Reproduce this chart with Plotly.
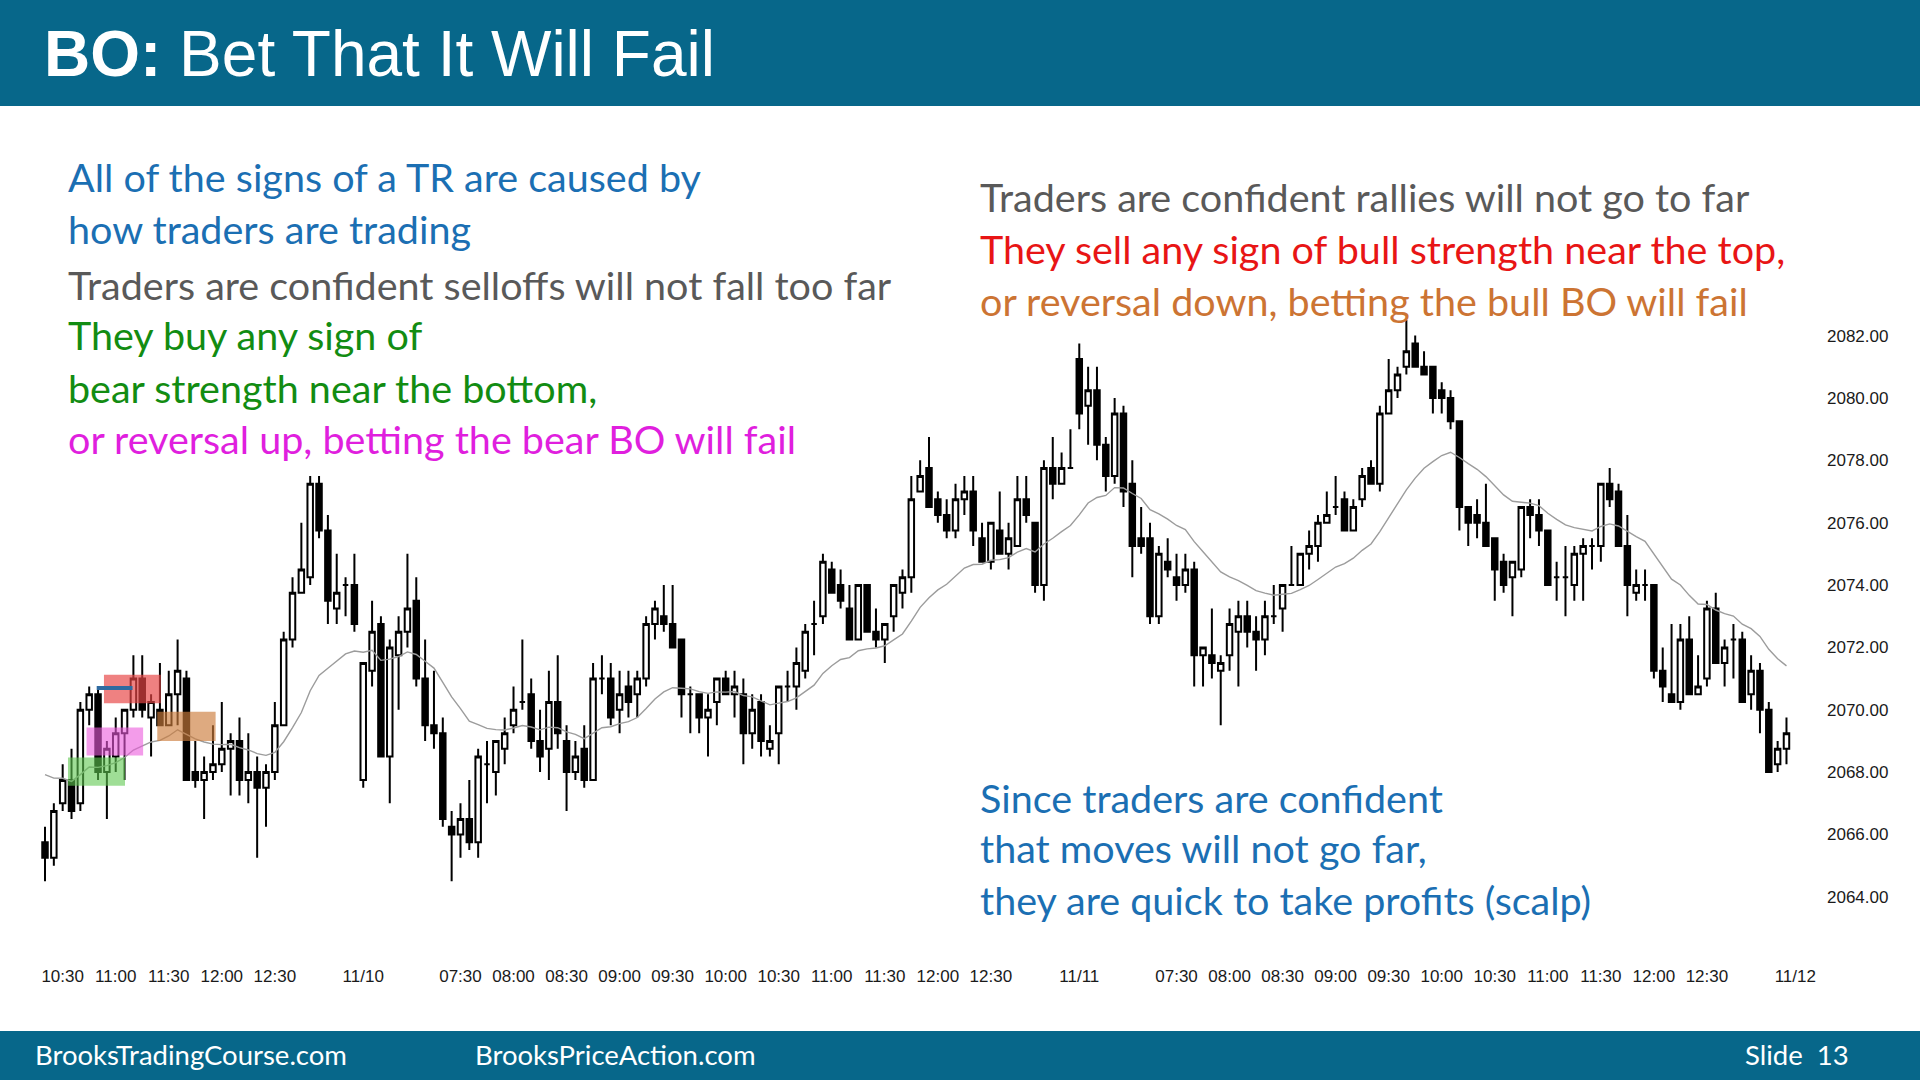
import plotly.graph_objects as go

# ---------------- data (5-min ES bars) ----------------
D1_OPEN = [2065.75, 2065.25, 2067, 2067.75, 2067, 2070, 2070.5, 2068, 2068.5, 2069.25, 2070, 2071,
           2069.75, 2070, 2069.5, 2070.5, 2071, 2068, 2067.75, 2068, 2068.25, 2068.75, 2069, 2067.75,
           2068, 2067.5, 2068, 2069.5, 2072.25, 2073.75, 2074.25, 2077.25, 2075.75, 2073.25, 2074, 2074]
D1_HIGH = [2066.25, 2067, 2068.25, 2068.75, 2070.25, 2070.75, 2070.75, 2069, 2069.75, 2070, 2071.75, 2071.75,
           2070.5, 2071.5, 2071.25, 2072.25, 2071.25, 2069, 2068.5, 2069.5, 2070.25, 2069.25, 2069.75, 2069.25,
           2068.5, 2068.25, 2070.25, 2072.5, 2074.25, 2076, 2077.5, 2077.5, 2076.25, 2075, 2074.25, 2075]
D1_LOW = [2064.5, 2065, 2066.75, 2066.5, 2066.75, 2069.5, 2067.75, 2066.5, 2068, 2067.75, 2069.75, 2069.75,
          2068.5, 2069.5, 2069.5, 2069.5, 2067.75, 2067.5, 2066.5, 2067.75, 2068, 2067.25, 2067.25, 2067,
          2065.25, 2066.25, 2067.75, 2069.5, 2072, 2073.75, 2074, 2075.5, 2072.75, 2072.75, 2073, 2072.5]
D1_CLOSE = [2065.25, 2066.75, 2067.75, 2066.75, 2070, 2070.5, 2068, 2068.75, 2069.25, 2070, 2071, 2070,
            2070.25, 2069.5, 2070.5, 2071.25, 2067.75, 2067.75, 2068, 2068.25, 2068.75, 2069, 2067.75, 2068,
            2067.5, 2068, 2069.5, 2072.25, 2073.75, 2074.5, 2077.25, 2075.75, 2073.5, 2073.75, 2074, 2072.75]

D2_OPEN = [2067.75, 2071.25, 2072.75, 2068.5, 2071.75, 2072.5, 2073.5, 2071, 2069.5, 2069.25, 2066.25, 2066,
           2066.5, 2065.75, 2068.25, 2068, 2068.75, 2069.5, 2070.25, 2070.5, 2069, 2068.75, 2070.25, 2069,
           2068, 2068.75, 2067.75, 2071, 2071, 2070, 2070.75, 2070.5, 2071, 2072.75, 2073, 2072.75,
           2072.25, 2070.5, 2070.5, 2069.75, 2070.25, 2071, 2070.5, 2070.5, 2069.25, 2070.25, 2068.75, 2069.25,
           2070.75, 2070.75, 2071.25, 2072.75, 2073, 2074.5, 2074, 2073.25, 2072.25, 2074, 2072.5, 2072.25,
           2073, 2073.75, 2074.25, 2077, 2077.75, 2076.75, 2076.25, 2075.75, 2076.75, 2077, 2075.5, 2074.75,
           2075.75, 2075, 2075.25, 2076.75, 2076, 2074, 2077.75, 2077.25, 2077.75]
D2_HIGH = [2071.5, 2073.5, 2073, 2072.25, 2073, 2075, 2074.25, 2072.25, 2071.25, 2069.75, 2066.75, 2067,
           2067.75, 2068.75, 2069, 2069, 2069.75, 2070.75, 2072.25, 2071, 2070, 2071.25, 2071.75, 2069.5,
           2069, 2069.5, 2071.5, 2071.75, 2071.5, 2071.25, 2071.25, 2071.25, 2073, 2073.5, 2074, 2074,
           2072.25, 2070.75, 2070.5, 2070.5, 2071, 2071.25, 2071.25, 2071, 2070.5, 2070.5, 2069.5, 2070.75,
           2071.25, 2072, 2072.75, 2073.5, 2075, 2074.75, 2074.5, 2074, 2074, 2074, 2073.25, 2072.75,
           2074, 2074.5, 2077.5, 2078, 2078.75, 2077, 2076.75, 2077.25, 2077.5, 2077.5, 2076, 2076,
           2077, 2076, 2077.5, 2077.5, 2076, 2078, 2078.75, 2078.25, 2079]
D2_LOW = [2067.5, 2070.75, 2068.5, 2067, 2070, 2072, 2070.75, 2069, 2068.75, 2066.25, 2064.5, 2065.25,
          2065.5, 2065.25, 2067, 2067.25, 2068.25, 2069.25, 2070, 2068.75, 2068, 2067.75, 2068.75, 2066.75,
          2067.75, 2067.5, 2067.75, 2070.5, 2069.5, 2069.25, 2069.75, 2069.75, 2070.75, 2072.25, 2072.5, 2072,
          2069.75, 2069.25, 2069.25, 2068.5, 2069.5, 2070.5, 2069.75, 2068.25, 2068.75, 2068.5, 2068.5, 2068.25,
          2070.25, 2070, 2071, 2071.75, 2072.75, 2073.75, 2073.25, 2072.25, 2072.25, 2072.5, 2072, 2071.5,
          2072.5, 2073.25, 2073.75, 2077, 2076.5, 2076, 2075.5, 2075.5, 2076.25, 2075.25, 2074.75, 2074.5,
          2075, 2074.5, 2075.25, 2076, 2073.75, 2073.5, 2076.75, 2077.25, 2077.75]
D2_CLOSE = [2071.5, 2072.5, 2068.5, 2072, 2072.5, 2073.25, 2071, 2069.5, 2069.25, 2066.5, 2066, 2066.5,
            2065.75, 2068.5, 2068.25, 2069, 2069.25, 2070, 2070.25, 2069, 2068.5, 2070.25, 2069.25, 2068,
            2068.5, 2067.75, 2071, 2071, 2069.75, 2070.5, 2070.25, 2071, 2072.75, 2073.25, 2072.75, 2072,
            2070.5, 2070.5, 2069.75, 2070, 2071, 2070.5, 2070.75, 2069.25, 2070, 2069, 2069, 2070.75,
            2070.75, 2071.5, 2072.5, 2072.75, 2074.75, 2073.75, 2073.5, 2072.25, 2074, 2072.5, 2072.25, 2072.75,
            2074, 2074.25, 2076.75, 2077.5, 2076.5, 2076.25, 2075.75, 2076.75, 2077, 2075.75, 2074.75, 2076,
            2075, 2075.5, 2076.75, 2076.25, 2074, 2077.75, 2077.25, 2077.75, 2077.75]

D3_OPEN = [2081.25, 2079.75, 2080.25, 2078.5, 2077.5, 2079.5, 2077.25, 2075.5, 2075.5, 2073, 2074.75, 2074.25,
           2074, 2074.5, 2071.75, 2071.75, 2071.25, 2071.75, 2072.5, 2073, 2072.5, 2072.25, 2073, 2073.25,
           2074, 2074, 2075, 2075.25, 2076, 2076.5, 2076.75, 2075.75, 2076.75, 2077.75, 2077.25, 2079.5,
           2080.25, 2081, 2081.75, 2081, 2081, 2080.25, 2080, 2079.25, 2076.5, 2076.25, 2076, 2075.5,
           2074.75, 2074.25, 2074.5, 2076.5, 2076.25, 2075.75, 2074.25, 2074.25, 2074, 2075, 2075.25, 2075.25,
           2077.25, 2077, 2075.25, 2073.75, 2074, 2074, 2071.25, 2070.5, 2070.25, 2072.25, 2070.5, 2071,
           2073.25, 2071.5, 2072.25, 2072.25, 2070.5, 2071.25, 2070, 2068.25, 2068.75]
D3_HIGH = [2081.75, 2081, 2081, 2078.75, 2080, 2079.75, 2078, 2076.5, 2076, 2075.25, 2075.5, 2075,
           2075, 2074.75, 2072, 2073.25, 2071.75, 2073.25, 2073.5, 2073.5, 2073, 2073.5, 2074, 2074,
           2075.25, 2075, 2075.75, 2076.25, 2077, 2077.5, 2077, 2076.75, 2077.75, 2078, 2079.75, 2081.25,
           2081, 2082.5, 2082, 2081.5, 2081, 2080.5, 2080.25, 2079.25, 2076.5, 2076.75, 2077.25, 2075.5,
           2075, 2074.75, 2076.5, 2076.75, 2076.75, 2075.75, 2074.75, 2075.25, 2075.25, 2075.5, 2075.5, 2077.25,
           2077.75, 2077.25, 2076.25, 2074.5, 2074.5, 2074, 2072, 2072.75, 2072.75, 2073, 2071.75, 2073.5,
           2073.75, 2072.25, 2072.75, 2072.5, 2071.75, 2071.5, 2070.25, 2069, 2069.75]
D3_LOW = [2079, 2078.5, 2078, 2077, 2077.25, 2076.5, 2074.25, 2075, 2072.75, 2072.75, 2074.25, 2073.5,
          2073.75, 2070.75, 2070.75, 2071, 2069.5, 2071.25, 2070.75, 2072, 2071.25, 2071.75, 2072.75, 2072.5,
          2074, 2074, 2074.5, 2074.75, 2076, 2076.25, 2075.75, 2075.75, 2076.5, 2077.25, 2077, 2079.5,
          2080, 2080.75, 2081, 2080.75, 2079.5, 2079.5, 2079, 2075.75, 2075.25, 2075.5, 2075.25, 2073.5,
          2073.75, 2073, 2074.25, 2075.5, 2075.25, 2074, 2073.5, 2073, 2073.5, 2073.5, 2074.5, 2074.75,
          2076.5, 2075.25, 2073, 2073.5, 2073.5, 2071, 2070.25, 2070.25, 2070, 2070.5, 2070.5, 2070.75,
          2071.5, 2070.75, 2071, 2070.25, 2070, 2069.25, 2068, 2068, 2068.25]
D3_CLOSE = [2079.5, 2080.25, 2078.5, 2077.5, 2079.5, 2077, 2075.25, 2075.25, 2073, 2075, 2074.5, 2074,
            2074.5, 2071.75, 2072, 2071.5, 2071.5, 2072.75, 2073, 2072.5, 2072.25, 2073, 2073, 2074,
            2074, 2075, 2075.25, 2076, 2076.25, 2076.5, 2075.75, 2076.5, 2077.5, 2077.25, 2079.5, 2080.25,
            2080.75, 2081.5, 2081, 2080.75, 2080, 2080, 2079.25, 2076.5, 2076, 2076, 2075.25, 2074.5,
            2074, 2074.75, 2076.5, 2076.25, 2075.75, 2074, 2074.25, 2074.25, 2075, 2075.25, 2075.25, 2077.25,
            2076.75, 2075.25, 2074, 2074, 2074, 2071.25, 2070.75, 2070.25, 2072.25, 2070.5, 2070.75, 2073.25,
            2071.5, 2072, 2072.25, 2070.25, 2071.25, 2070, 2068, 2068.75, 2069.25]

TIME_TICK_BARS = [2, 8, 14, 20, 26, 36, 47, 53, 59, 65, 71, 77, 83, 89, 95, 101, 107,
                  117, 128, 134, 140, 146, 152, 158, 164, 170, 176, 182, 188, 198]
TIME_TICK_TEXT = ["10:30", "11:00", "11:30", "12:00", "12:30", "11/10",
                  "07:30", "08:00", "08:30", "09:00", "09:30", "10:00", "10:30", "11:00", "11:30", "12:00", "12:30",
                  "11/11",
                  "07:30", "08:00", "08:30", "09:00", "09:30", "10:00", "10:30", "11:00", "11:30", "12:00", "12:30",
                  "11/12"]
PRICE_TICKS = [2064, 2066, 2068, 2070, 2072, 2074, 2076, 2078, 2080, 2082]
MA_PERIOD = 20
MA_START = 2068.2   # value of the average line at the left edge

# ---------------- build ----------------
opens = D1_OPEN + D2_OPEN + D3_OPEN
highs = D1_HIGH + D2_HIGH + D3_HIGH
lows = D1_LOW + D2_LOW + D3_LOW
closes = D1_CLOSE + D2_CLOSE + D3_CLOSE
xs = list(range(len(closes)))

k = 2.0 / (MA_PERIOD + 1)
ema, prev = [], MA_START
for c in closes:
    prev = prev + k * (c - prev)
    ema.append(prev)

W, H = 1920, 1080
def px(x): return x / W
def py(y): return 1 - y / H

BAR_COLOR = "#07678A"
BODY_FONT = "Lato"

fig = go.Figure()
fig.add_trace(go.Scatter(x=xs, y=ema, mode="lines", line=dict(color="#9c9c9c", width=1.4),
                         hoverinfo="skip", showlegend=False))
fig.add_trace(go.Candlestick(
    x=xs, open=opens, high=highs, low=lows, close=closes,
    increasing=dict(line=dict(color="black", width=2), fillcolor="white"),
    decreasing=dict(line=dict(color="black", width=2), fillcolor="black"),
    whiskerwidth=0, showlegend=False, hoverinfo="skip"))

shapes = [
    dict(type="rect", xref="paper", yref="paper", x0=0, x1=1, y0=py(106), y1=1,
         fillcolor=BAR_COLOR, line=dict(width=0), layer="below"),
    dict(type="rect", xref="paper", yref="paper", x0=0, x1=1, y0=0, y1=py(1031),
         fillcolor=BAR_COLOR, line=dict(width=0), layer="below"),
    # highlight boxes on day 1
    dict(type="rect", xref="x", yref="y", x0=2.6, x1=9.05, y0=2067.56, y1=2068.47,
         fillcolor="rgba(95,200,80,0.6)", line=dict(width=0), layer="above"),
    dict(type="rect", xref="x", yref="y", x0=4.7, x1=11.1, y0=2068.53, y1=2069.43,
         fillcolor="rgba(235,90,220,0.6)", line=dict(width=0), layer="above"),
    dict(type="rect", xref="x", yref="y", x0=6.67, x1=13.1, y0=2070.21, y1=2071.12,
         fillcolor="rgba(232,70,70,0.68)", line=dict(width=0), layer="above"),
    dict(type="rect", xref="x", yref="y", x0=12.7, x1=19.3, y0=2069.0, y1=2069.94,
         fillcolor="rgba(205,125,60,0.65)", line=dict(width=0), layer="above"),
    dict(type="line", xref="x", yref="y", x0=5.85, x1=9.9, y0=2070.7, y1=2070.7,
         line=dict(color="#2F6AA0", width=4), layer="above"),
]

def txt(s, x, y, color, size=39.5, family=BODY_FONT, anchor="left"):
    return dict(text=s, xref="paper", yref="paper", x=px(x), y=py(y), xanchor=anchor,
                yanchor="middle", showarrow=False, font=dict(family=family, size=size, color=color))

BLUE, GRAY, GREEN, MAG, RED, ORANGE = "#1B6FB3", "#595959", "#128C12", "#E01FDE", "#E81515", "#CC7433"
LX, RX = 66, 978
ann = [
    txt("<b>BO:</b> Bet That It Will Fail", 42, 54, "white", size=64, family="Liberation Sans"),
    txt("All of the signs of a TR are caused by", LX, 177, BLUE),
    txt("how traders are trading", LX, 228, BLUE),
    txt("Traders are confident selloffs will not fall too far", LX, 284, GRAY),
    txt("They buy any sign of", LX, 335, GREEN),
    txt("bear strength near the bottom,", LX, 387, GREEN),
    txt("or reversal up, betting the bear BO will fail", LX, 438, MAG),
    txt("Traders are confident rallies will not go to far", RX, 197, GRAY),
    txt("They sell any sign of bull strength near the top,", RX, 248, RED),
    txt("or reversal down, betting the bull BO will fail", RX, 300, ORANGE),
    txt("Since traders are confident", RX, 797, BLUE),
    txt("that moves will not go far,", RX, 847, BLUE),
    txt("they are quick to take profits (scalp)", RX, 899, BLUE),
    txt("BrooksTradingCourse.com", 33, 1054, "white", size=27.5),
    txt("BrooksPriceAction.com", 473, 1054, "white", size=27.5),
    txt("Slide  13", 1851, 1054, "white", size=27.5, anchor="right"),
]

PLOT_L, PLOT_R, PLOT_T, PLOT_B = 20, 1826, 310, 964
BAR0_X, BAR_STEP = 45, 8.84
x0 = -(BAR0_X - PLOT_L) / BAR_STEP
x1 = x0 + (PLOT_R - PLOT_L) / BAR_STEP
PRICE_REF, PRICE_REF_Y, PX_PER_PT = 2082, 335.6, 31.18
ytop = PRICE_REF + (PRICE_REF_Y - PLOT_T) / PX_PER_PT
ybot = PRICE_REF - (PLOT_B - PRICE_REF_Y) / PX_PER_PT

axis_font = dict(family="Liberation Sans", size=17, color="#1a1a1a")
fig.update_layout(
    width=W, height=H, margin=dict(l=0, r=0, t=0, b=0),
    paper_bgcolor="white", plot_bgcolor="white",
    boxgap=0.38, boxgroupgap=0,
    shapes=shapes, annotations=ann, showlegend=False,
    xaxis=dict(domain=[px(PLOT_L), px(PLOT_R)], range=[x0, x1], showgrid=False, zeroline=False,
               showline=False, ticks="", tickvals=TIME_TICK_BARS, ticktext=TIME_TICK_TEXT,
               tickfont=axis_font, rangeslider=dict(visible=False), fixedrange=True),
    yaxis=dict(domain=[1 - PLOT_B / H, 1 - PLOT_T / H], range=[ybot, ytop], side="right",
               showgrid=False, zeroline=False, showline=False, ticks="",
               tickvals=PRICE_TICKS, tickformat=".2f", tickfont=axis_font, fixedrange=True),
)

fig.write_html("out.html")
